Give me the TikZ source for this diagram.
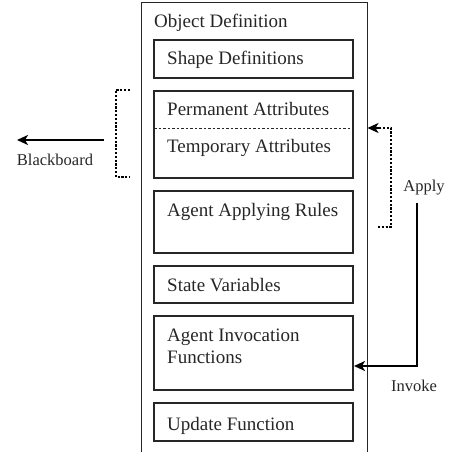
\documentclass[tikz,border=0pt]{standalone}
\usepackage{fontspec}
\setmainfont{Liberation Serif}
\usetikzlibrary{arrows.meta}
\begin{document}
\begin{tikzpicture}[x=1pt,y=-1pt,
  inner/.style={draw=black!85,line width=1.1pt},
  boxtext/.style={anchor=base west,inner sep=0pt,font=\fontsize{19}{22}\selectfont,text=black!85},
  lbl/.style={anchor=base,inner sep=0pt,font=\fontsize{16.5}{20}\selectfont,text=black!85},
  conn/.style={line width=2pt,-{Stealth[length=11pt,width=10pt,inset=3pt]}},
  dotconn/.style={line width=2.2pt,dash pattern=on 2.2pt off 1.6pt}]
\useasboundingbox (0,0) rectangle (456,452);
% outer object definition box (open at bottom)
\draw[line width=1pt,black!85] (141,452) -- (141,3) -- (367,3) -- (367,452);
\node[boxtext] (od) at (154,28) {Object Definition};
% inner boxes
\draw[inner] (154,40) rectangle (353,78);
\node[boxtext] (sd) at (167,65) {Shape Definitions};
\draw[inner] (154,91) rectangle (353,178);
\draw[line width=0.8pt,black!85,dash pattern=on 2.5pt off 2pt] (154,128) -- (353,128);
\node[boxtext] (pa) at (167,116) {Permanent Attributes};
\node[boxtext] (ta) at (167,153) {Temporary Attributes};
\draw[inner] (154,191) rectangle (353,253);
\node[boxtext] (ar) at (167,216) {Agent Applying Rules};
\draw[inner] (154,266) rectangle (353,303);
\node[boxtext] (sv) at (167,291) {State Variables};
\draw[inner] (154,316) rectangle (353,390);
\node[boxtext] (ai) at (167,341) {Agent Invocation};
\node[boxtext] (ai2) at (167,363) {Functions};
\draw[inner] (154,403) rectangle (353,441);
\node[boxtext] (uf) at (167,430) {Update Function};
% blackboard
\coordinate (bbs) at (104,140);
\coordinate (bbe) at (17,140);
\draw[conn] (bbs) -- (bbe);
\node[lbl] (bb) at (55,165) {Blackboard};
\coordinate (lb1) at (130,90);
\coordinate (lb2) at (130,177);
\draw[dotconn] (lb1) -- (116,90) -- (116,177) -- (lb2);
% apply
\coordinate (ap1) at (378,227);
\coordinate (ap2) at (367.5,128);
\draw[dotconn] (ap1) -- (391,227) -- (391,128) -- (380,128);
\draw[conn] (381,128) -- (ap2);
\node[lbl] (apply) at (424,191) {Apply};
% invoke
\coordinate (iv1) at (417,203);
\coordinate (iv2) at (354,366);
\draw[conn] (iv1) -- (417,366) -- (iv2);
\node[lbl] (invoke) at (414,391) {Invoke};
\end{tikzpicture}
\end{document}
